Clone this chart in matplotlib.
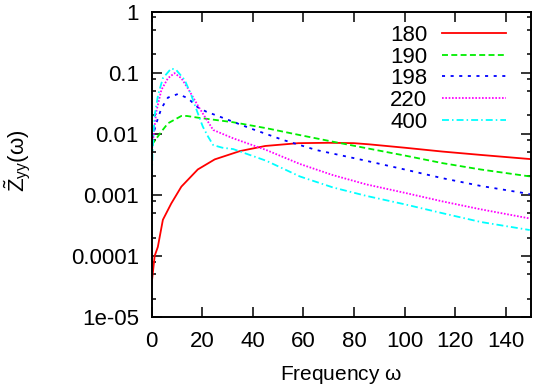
import numpy as np
import matplotlib
matplotlib.use("Agg")
import matplotlib.pyplot as plt
from matplotlib.ticker import LogLocator, FixedLocator, FixedFormatter, NullFormatter

# values (frequency, Z_yy)
x_180 = [0, 1.25, 2.5, 4.5, 7.8, 11.8, 18.3, 25, 35, 45, 58, 70, 80, 86, 100, 115, 130, 149.5]
y_180 = [3.3e-5, 1.0e-4, 1.4e-4, 3.9e-4, 7.2e-4, 1.36e-3, 2.6e-3, 3.8e-3, 5.2e-3, 6.3e-3,
         7.0e-3, 7.1e-3, 7.0e-3, 6.7e-3, 5.9e-3, 5.1e-3, 4.5e-3, 3.85e-3]

x_190 = [0, 0.6, 3.9, 6.5, 11.8, 14, 18.3, 32.3, 45.4, 58.6, 71.7, 84.9, 100, 115, 130, 149.5]
y_190 = [4.5e-3, 7.0e-3, 1.08e-2, 1.48e-2, 1.95e-2, 1.95e-2, 1.83e-2, 1.54e-2, 1.23e-2, 9.5e-3,
         7.4e-3, 5.8e-3, 4.4e-3, 3.3e-3, 2.6e-3, 2.0e-3]

x_198 = [0, 0.3, 1.9, 3.9, 6.5, 10.5, 14.4, 18.3, 21.6, 27, 38.9, 52, 65.2, 84.9, 100, 115, 130, 149.5]
y_198 = [6.0e-3, 8.4e-3, 1.48e-2, 2.6e-2, 3.9e-2, 4.47e-2, 3.8e-2, 2.7e-2, 2.3e-2, 1.9e-2,
         1.23e-2, 7.9e-3, 5.4e-3, 3.6e-3, 2.6e-3, 1.87e-3, 1.4e-3, 1.03e-3]

x_220 = [0, 0.3, 1.9, 3.9, 6.5, 9.1, 11.8, 14.4, 18.3, 21.6, 24.4, 32.3, 45.4, 58.6, 71.7, 84.9,
         100, 115, 130, 149.5]
y_220 = [4.0e-3, 6.1e-3, 2.3e-2, 5.2e-2, 8.1e-2, 9.8e-2, 8.1e-2, 5.5e-2, 2.9e-2, 1.75e-2, 1.15e-2,
         8.4e-3, 5.4e-3, 3.2e-3, 2.1e-3, 1.48e-3, 1.08e-3, 7.8e-4, 5.8e-4, 4.1e-4]

x_400 = [0, 0.4, 1.25, 2.6, 4.5, 7.8, 9.8, 13.1, 15.7, 18.3, 20.3, 22.4, 24.4, 28, 32.3, 45.4,
         58.6, 71.7, 84.9, 100, 115, 130, 149.5]
y_400 = [1.2e-3, 5.0e-3, 2.0e-2, 4.3e-2, 8.1e-2, 1.17e-1, 1.1e-1, 7.6e-2, 4.3e-2, 2.16e-2, 1.3e-2,
         8.9e-3, 6.5e-3, 5.9e-3, 5.6e-3, 3.6e-3, 2.0e-3, 1.32e-3, 9.6e-4, 7.0e-4, 5.0e-4,
         3.6e-4, 2.65e-4]

labels = ["180", "190", "198", "220", "400"]
xticks = [0, 20, 40, 60, 80, 100, 120, 140]
yticks = [1e-5, 1e-4, 1e-3, 1e-2, 1e-1, 1]
ytick_labels = ["1e-05", "0.0001", "0.001", "0.01", "0.1", "1"]

plt.rcParams['font.family'] = ['Liberation Sans', 'DejaVu Sans']
plt.rcParams['mathtext.fontset'] = 'custom'
plt.rcParams['mathtext.rm'] = 'Liberation Sans'
plt.rcParams['mathtext.it'] = 'Liberation Sans'
plt.rcParams['lines.scale_dashes'] = False

fig = plt.figure(figsize=(5.36, 3.88), dpi=100)
ax = fig.add_axes([151.5 / 536, 1 - 317 / 388, 379.5 / 536, 305.5 / 388])

series = [(x_180, y_180, '#ff0000', '-'),
          (x_190, y_190, '#00ee00', (0, (4.3, 2.4))),
          (x_198, y_198, '#0000ff', (0, (2.2, 4.0))),
          (x_220, y_220, '#ff00ff', (0, (1.2, 1.2))),
          (x_400, y_400, '#00ffff', (0, (5.0, 2.2, 1.1, 2.2)))]
for (xs, ys, c, ls), lab in zip(series, labels):
    ax.plot(xs, ys, color=c, linestyle=ls, linewidth=1.3, label=lab)

ax.set_yscale('log')
ax.set_xlim(0, 150)
ax.set_ylim(1e-5, 1)
ax.xaxis.set_major_locator(FixedLocator(xticks))
ax.yaxis.set_major_locator(FixedLocator(yticks))
ax.yaxis.set_major_formatter(FixedFormatter(ytick_labels))
ax.yaxis.set_minor_locator(LogLocator(base=10, subs=[2, 5, 8]))
ax.yaxis.set_minor_formatter(NullFormatter())

for sp in ax.spines.values():
    sp.set_linewidth(1.4)
ax.tick_params(which='both', direction='in', top=True, right=True, labelsize=16, width=1.1)
ax.tick_params(which='major', length=7)
ax.tick_params(axis='x', which='major', pad=10)
ax.tick_params(axis='y', which='major', pad=9)
ax.tick_params(which='minor', length=3.2)

ax.set_xlabel(r'Frequency $\omega$', fontsize=15, labelpad=9)
fig.text(18 / 536, 1 - 161 / 388, r'$\tilde{\mathrm{Z}}_{\mathrm{yy}}(\omega)$', fontsize=16,
         rotation=90, ha='center', va='center')

ax.legend(loc='upper right', frameon=False, markerfirst=False, fontsize=16,
          handlelength=2.9, handletextpad=0.65, labelspacing=0.03,
          borderaxespad=0.2, bbox_to_anchor=(0.97, 1.0))

fig.savefig('out.png', dpi=100)
